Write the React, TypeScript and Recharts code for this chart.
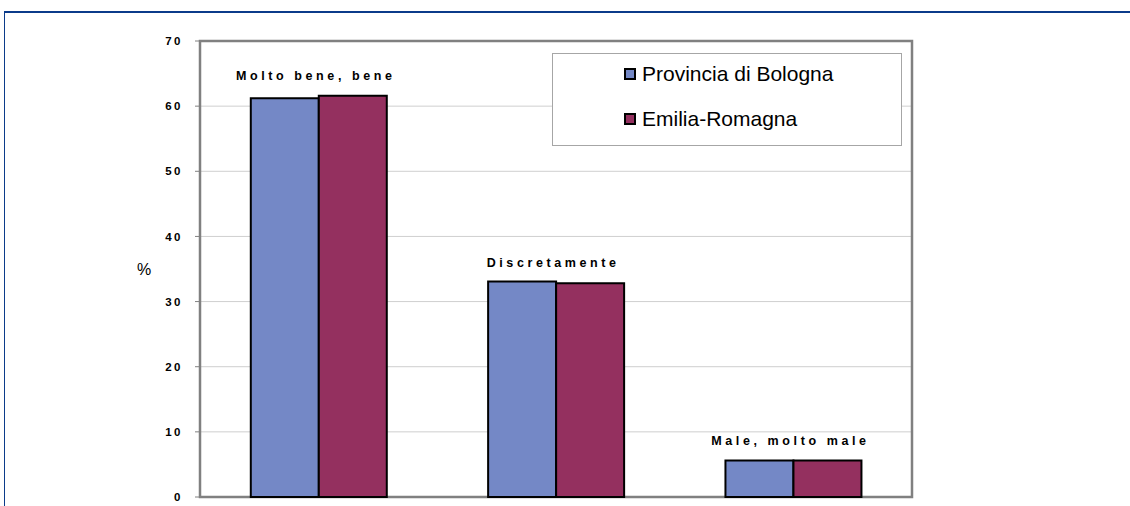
import {
  BarChart,
  Bar,
  XAxis,
  YAxis,
  CartesianGrid,
  ReferenceArea,
  Legend,
  LabelList,
} from 'recharts';

const CATEGORIES = ['Molto bene, bene', 'Discretamente', 'Male, molto male'];
const SERIES_NAMES = ['Provincia di Bologna', 'Emilia-Romagna'];
const BOLOGNA = [61.2, 33.1, 5.6];
const EMILIA = [61.6, 32.8, 5.6];
const Y_TICKS = [0, 10, 20, 30, 40, 50, 60, 70];

const BLUE = '#7488c6';
const MAROON = '#94305f';
const FRAME = '#0b3b8a';
const GRID_STROKE = '#cfcfcf';
const BORDER = '#808080';
const FONT = 'Arial, "Liberation Sans", Helvetica, sans-serif';

const data = CATEGORIES.map((name, i) => ({
  name,
  bologna: BOLOGNA[i],
  emilia: EMILIA[i],
}));

function GroupLabel(props: any) {
  const { x, y, value } = props;
  return (
    <text
      x={Number(x) - 3}
      y={Number(y) - 16}
      textAnchor="middle"
      fontFamily={FONT}
      fontSize={12.5}
      fontWeight="bold"
      letterSpacing={3.6}
      fill="#000"
    >
      {value}
    </text>
  );
}

function LegendBox(props: any) {
  const items = [...(props.payload || [])].sort(
    (a: any, b: any) => SERIES_NAMES.indexOf(a.value) - SERIES_NAMES.indexOf(b.value),
  );
  return (
    <div style={{ padding: '8px 0 0 71px', display: 'flex', flexDirection: 'column', gap: 21 }}>
      {items.map((it: any) => (
        <div key={it.value} style={{ display: 'flex', alignItems: 'center', height: 24 }}>
          <span
            style={{
              width: 12,
              height: 12,
              boxSizing: 'border-box',
              border: '2px solid #000',
              background: it.color,
              marginRight: 6,
            }}
          />
          <span style={{ fontFamily: FONT, fontSize: 21, color: '#000', lineHeight: '24px' }}>
            {it.value}
          </span>
        </div>
      ))}
    </div>
  );
}

export default function App() {
  return (
    <div style={{ position: 'absolute', left: 0, top: 0, width: 1130, height: 506, background: '#fff', overflow: 'hidden' }}>
      <div
        style={{
          position: 'absolute',
          left: 4,
          top: 11,
          width: 1130,
          height: 500,
          borderTop: `2.5px solid ${FRAME}`,
          borderLeft: `1.5px solid ${FRAME}`,
        }}
      />
      <div style={{ position: 'absolute', left: 0, top: 0 }}>
        <BarChart
          width={1130}
          height={506}
          data={data}
          margin={{ top: 41, right: 218, bottom: 9, left: 140 }}
          barCategoryGap="21.4%"
          barGap={0}
        >
          <CartesianGrid vertical={false} stroke={GRID_STROKE} strokeWidth={1} />
          <XAxis dataKey="name" hide />
          <YAxis
            width={60}
            domain={[0, 70]}
            ticks={Y_TICKS}
            axisLine={false}
            tickLine={{ stroke: BORDER }}
            tickSize={5}
            tickMargin={12}
            tick={{ fill: '#000', fontSize: 11.5, fontWeight: 'bold', fontFamily: FONT, letterSpacing: 2.5 }}
            label={{
              value: '%',
              position: 'insideLeft',
              offset: -3,
              fill: '#000',
              fontSize: 16,
              fontFamily: FONT,
            }}
          />
          <ReferenceArea y1={0} y2={70} fill="none" stroke={BORDER} strokeWidth={2.5} ifOverflow="visible" />
          <Legend
            layout="horizontal"
            verticalAlign="middle"
            align="center"
            content={<LegendBox />}
            wrapperStyle={{
              left: 552,
              top: 53,
              width: 350,
              height: 93,
              border: '1.5px solid #a6a6a6',
              background: '#fff',
              boxSizing: 'border-box',
            }}
          />
          <Bar
            dataKey="bologna"
            name={SERIES_NAMES[0]}
            fill={BLUE}
            stroke="#000"
            strokeWidth={2}
            isAnimationActive={false}
          />
          <Bar
            dataKey="emilia"
            name={SERIES_NAMES[1]}
            fill={MAROON}
            stroke="#000"
            strokeWidth={2}
            isAnimationActive={false}
          >
            <LabelList dataKey="name" content={<GroupLabel />} />
          </Bar>
        </BarChart>
      </div>
    </div>
  );
}
